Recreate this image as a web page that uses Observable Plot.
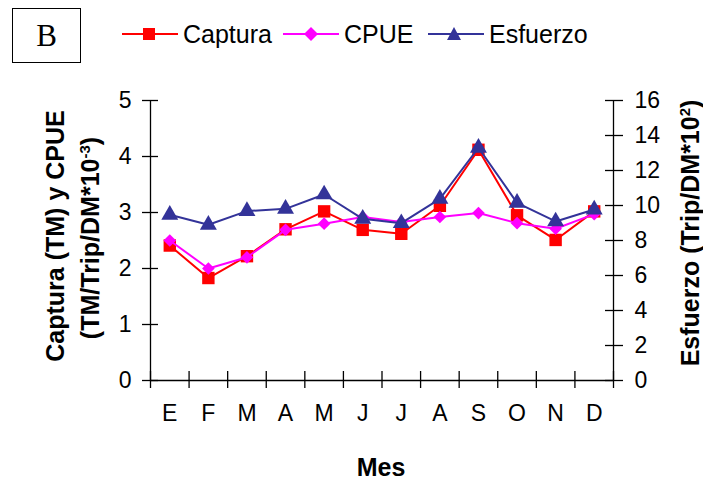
<!DOCTYPE html>
<html>
<head>
<meta charset="utf-8">
<script src="https://cdn.jsdelivr.net/npm/d3@7"></script>
<script src="https://cdn.jsdelivr.net/npm/@observablehq/plot@0.6"></script>
<style>
  html, body { margin: 0; padding: 0; background: #fff; }
  #wrap { position: relative; width: 703px; height: 481px; font-family: "Liberation Sans", Arial, sans-serif; overflow: hidden; }
  #chart { position: absolute; left: 0; top: 0; }
  .abs { position: absolute; white-space: nowrap; }
  .rot { transform: translate(-50%, -50%) rotate(-90deg); font-weight: bold; font-size: 25px; line-height: 1; }
  #boxB { left: 12px; top: 8px; width: 67px; height: 53px; border: 1.5px solid #000; font-family: "Liberation Serif", "Times New Roman", serif; font-size: 31px; display: flex; align-items: center; justify-content: center; }
  .leg { position: absolute; top: 17px; height: 34px; display: flex; align-items: center; font-size: 25px; }
  .leg svg { margin-right: 5px; }
  sup { font-size: 60%; vertical-align: 0.6em; line-height: 0; }
</style>
</head>
<body>
<div id="wrap">
  <div id="chart"></div>
  <div class="abs" id="boxB">B</div>
  <div class="leg" style="left:122px"><svg width="56" height="20"><line x1="0" x2="56" y1="10" y2="10" stroke="#ff0000" stroke-width="2"/><rect x="21" y="4" width="12" height="12" fill="#ff0000"/></svg>Captura</div>
  <div class="leg" style="left:283px"><svg width="56" height="20"><line x1="0" x2="56" y1="10" y2="10" stroke="#ff00ff" stroke-width="2"/><path d="M28,3 L35,10 L28,17 L21,10 Z" fill="#ff00ff"/></svg>CPUE</div>
  <div class="leg" style="left:428px"><svg width="56" height="20"><line x1="0" x2="56" y1="10" y2="10" stroke="#333399" stroke-width="2"/><path d="M26,3 L33,16 L19,16 Z" fill="#333399"/></svg>Esfuerzo</div>
  <div class="abs rot" style="left:55px; top:236px;">Captura (TM) y CPUE</div>
  <div class="abs rot" style="left:90px; top:238px;">(TM/Trip/DM*10<sup>-3</sup>)</div>
  <div class="abs rot" style="left:690px; top:233px;">Esfuerzo (Trip/DM*10<sup>2</sup>)</div>
  <div class="abs" style="left:381px; top:467px; transform: translate(-50%,-50%); font-weight:bold; font-size:25px;">Mes</div>
</div>
<script>
// Data
const months = ["E","F","M","A","M","J","J","A","S","O","N","D"];
const captura = [2.41, 1.83, 2.22, 2.70, 3.02, 2.69, 2.62, 3.12, 4.12, 2.95, 2.51, 3.02];
const cpue = [2.50, 2.00, 2.20, 2.69, 2.80, 2.92, 2.83, 2.92, 2.99, 2.81, 2.71, 2.97];
const esfuerzo = [9.47, 8.90, 9.68, 9.81, 10.63, 9.24, 8.99, 10.38, 13.30, 10.15, 9.09, 9.77];
const leftTicks = [0, 1, 2, 3, 4, 5];
const rightTicks = [0, 2, 4, 6, 8, 10, 12, 14, 16];

const leftMax = 5, rightMax = 16;
const toLeft = v => v * leftMax / rightMax;

const rows = months.map((m, i) => ({
  i: i + 0.5, month: m,
  captura: captura[i], cpue: cpue[i], esfuerzo: toLeft(esfuerzo[i])
}));

const font = "Liberation Sans, Arial, sans-serif";

const chart = Plot.plot({
  width: 703,
  height: 481,
  marginLeft: 150,
  marginRight: 90,
  marginTop: 100,
  marginBottom: 101,
  style: { fontFamily: font, background: "white", color: "black", overflow: "visible" },
  x: { type: "linear", domain: [0, 12], axis: null },
  y: { domain: [0, leftMax], axis: null },
  marks: [
    // axis lines
    Plot.ruleY([0], { stroke: "black", strokeWidth: 1.3 }),
    Plot.ruleX([0, 12], { stroke: "black", strokeWidth: 1.3 }),
    // x ticks at month boundaries (crossing)
    Plot.axisX(d3.range(13), { anchor: "bottom", tickSize: 17, dy: -9, tickFormat: () => "", label: null, stroke: "black", strokeWidth: 1.3 }),
    Plot.text(rows, { x: "i", text: "month", frameAnchor: "bottom", dy: 40, fontSize: 23, fill: "black" }),
    // left axis
    Plot.axisY(leftTicks, { anchor: "left", tickSize: 16, dx: 8, tickFormat: () => "", label: null, stroke: "black", strokeWidth: 1.3 }),
    Plot.axisY(leftTicks, { anchor: "left", tickSize: 0, tickPadding: 19, fontSize: 23, label: null, fill: "black", tickFormat: d => String(d) }),
    // right axis
    Plot.axisY(rightTicks.map(toLeft), { anchor: "right", tickSize: 18, dx: -9, tickFormat: () => "", label: null, stroke: "black", strokeWidth: 1.3 }),
    Plot.axisY(rightTicks.map(toLeft), { anchor: "right", tickSize: 0, tickPadding: 21, fontSize: 23, label: null, fill: "black",
      tickFormat: d => String(Math.round(d * rightMax / leftMax)) }),
    // Captura
    Plot.line(rows, { x: "i", y: "captura", stroke: "#ff0000", strokeWidth: 2 }),
    Plot.dot(rows, { x: "i", y: "captura", symbol: "square", r: 7, fill: "#ff0000", stroke: "none" }),
    // CPUE
    Plot.line(rows, { x: "i", y: "cpue", stroke: "#ff00ff", strokeWidth: 2 }),
    Plot.dot(rows, { x: "i", y: "cpue", symbol: "diamond2", r: 5.7, fill: "#ff00ff", stroke: "none" }),
    // Esfuerzo
    Plot.line(rows, { x: "i", y: "esfuerzo", stroke: "#333399", strokeWidth: 2 }),
    Plot.dot(rows, { x: "i", y: "esfuerzo", symbol: "triangle", r: 6.3, fill: "#333399", stroke: "none" })
  ]
});
document.getElementById("chart").appendChild(chart);
</script>
</body>
</html>
